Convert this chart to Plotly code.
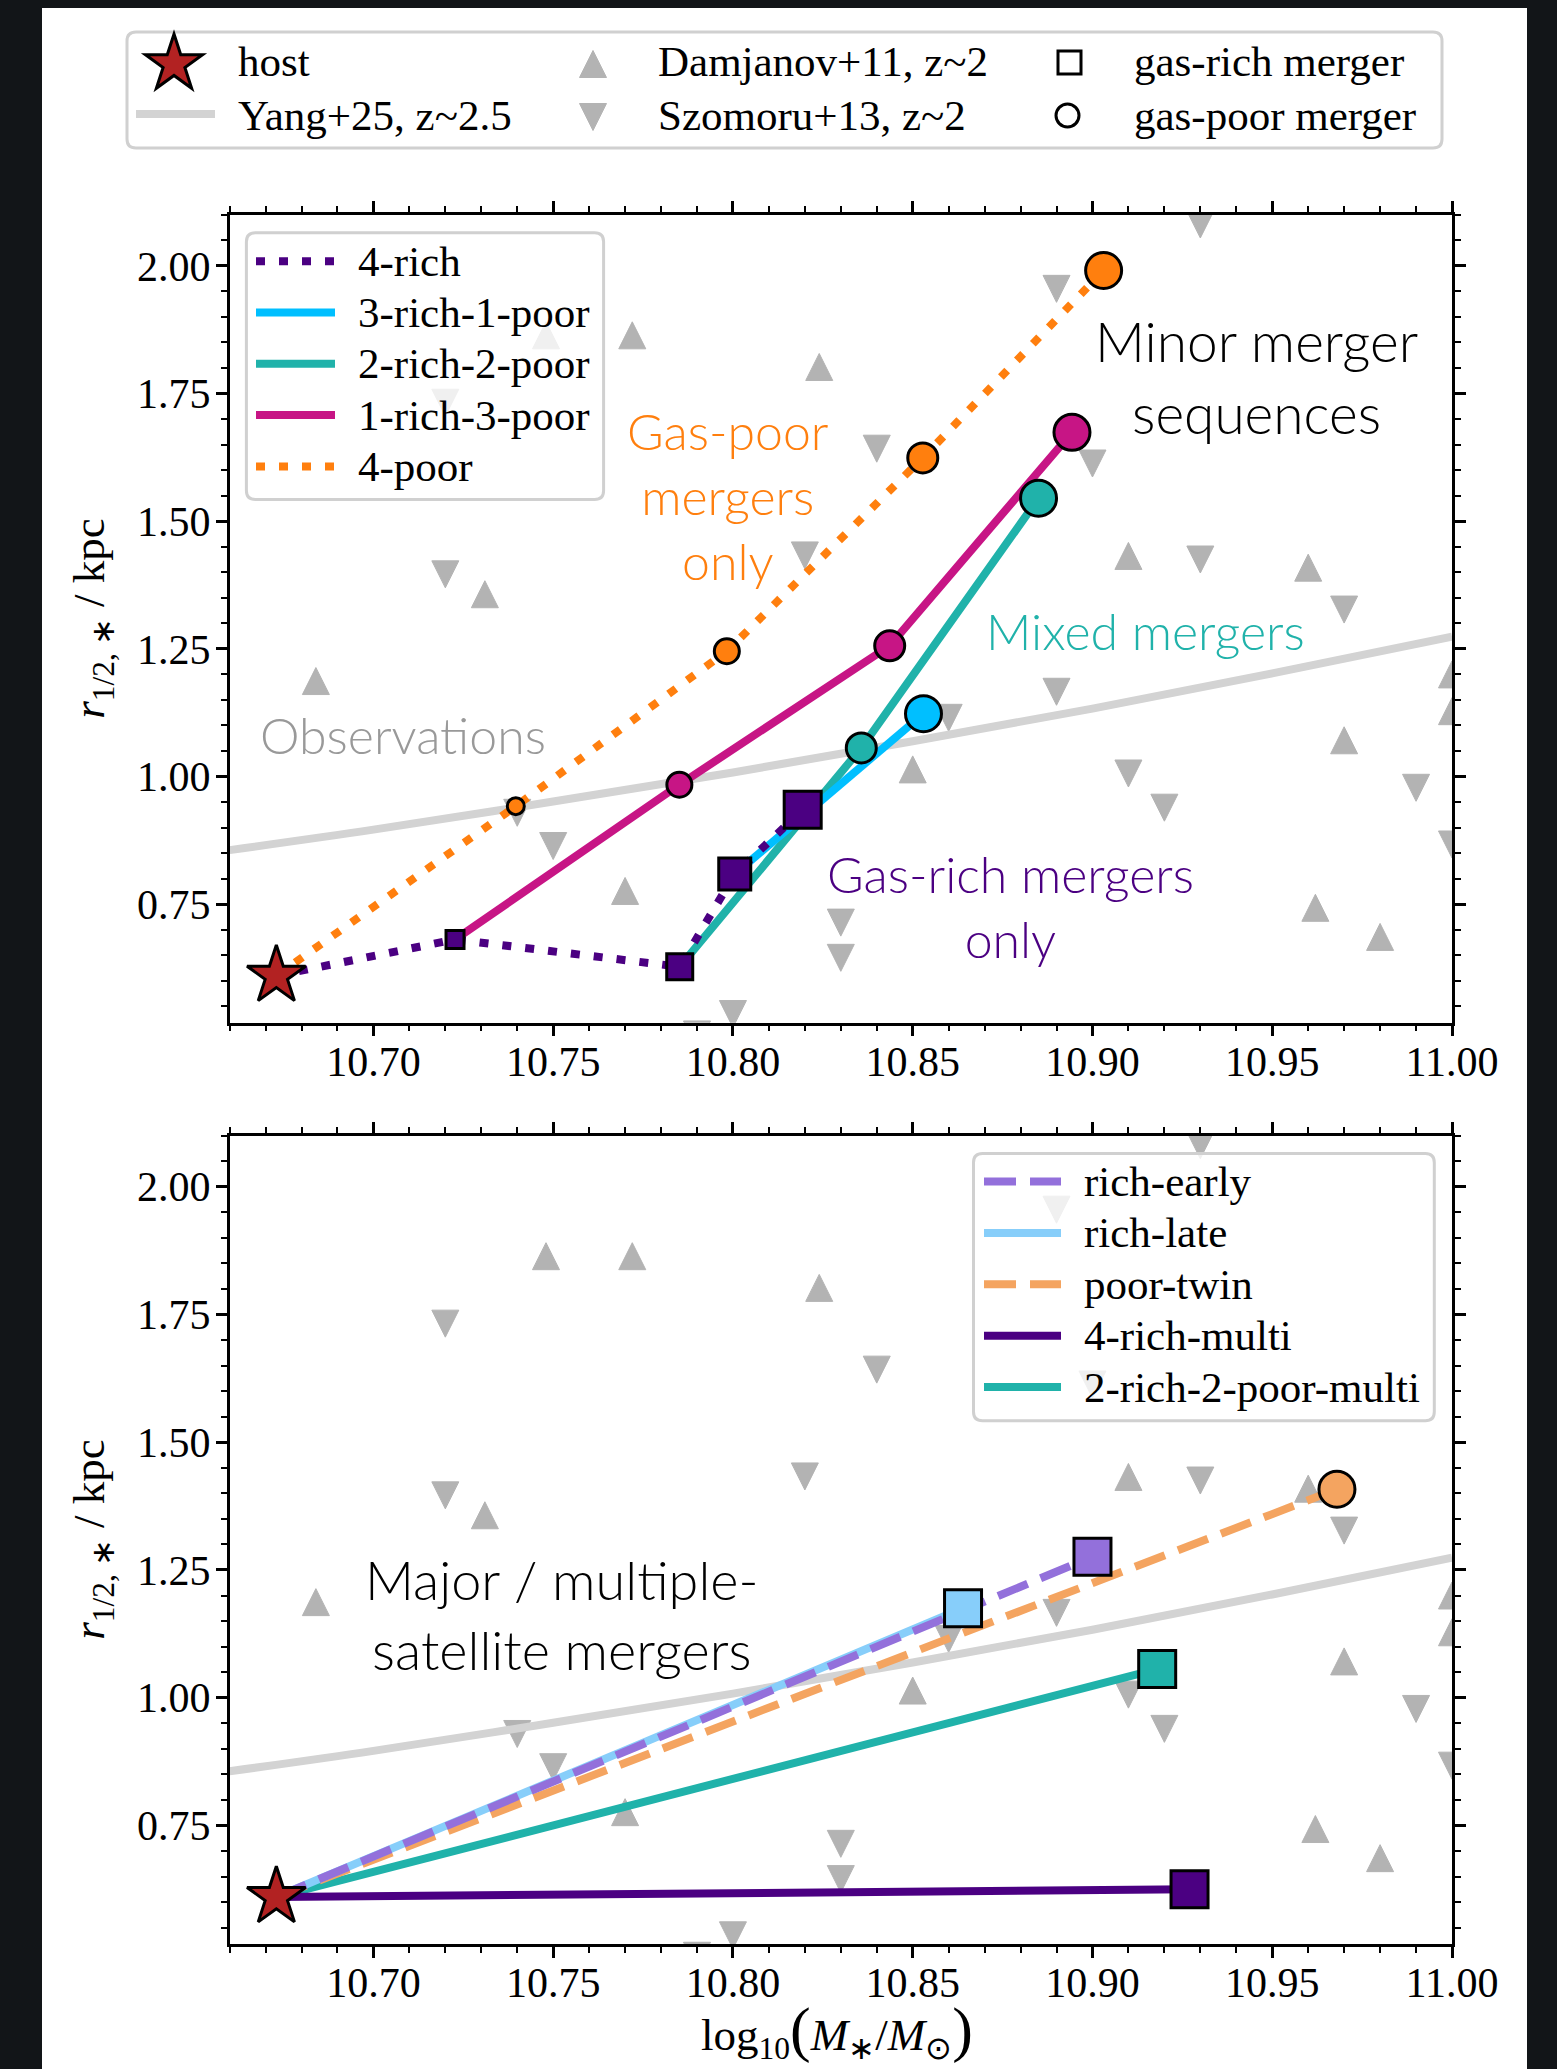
import math
import plotly.graph_objects as go

# ---------------- data ----------------
host_logm = [10.673]
host_r = [0.610]

damjanov_logm = [10.748, 10.772, 10.824, 10.731, 10.684, 10.910, 10.960, 10.970,
                 10.850, 10.770, 10.962, 10.980, 11.000, 11.000]
damjanov_r = [1.864, 1.864, 1.802, 1.357, 1.187, 1.432, 1.409, 1.071,
              1.014, 0.776, 0.743, 0.686, 1.200, 1.128]

szomoru_logm = [10.930, 10.890, 10.720, 10.840, 10.900, 10.820, 10.720, 10.930,
                10.970, 10.890, 10.860, 10.910, 10.920, 10.990, 11.000, 10.740,
                10.750, 10.830, 10.830, 10.800, 10.790]
szomoru_r = [2.081, 1.955, 1.732, 1.642, 1.613, 1.433, 1.396, 1.425,
             1.327, 1.166, 1.115, 1.006, 0.939, 0.978, 0.867, 0.929,
             0.864, 0.714, 0.645, 0.535, 0.495]

yang_logm = [10.66, 10.70, 10.75, 10.80, 10.85, 10.90, 10.95, 11.00]
yang_r = [0.856, 0.896, 0.951, 1.008, 1.069, 1.133, 1.202, 1.274]

# minor merger sequences (first point = where the sequence branches off)
minor_names = ["4-rich", "3-rich-1-poor", "2-rich-2-poor", "1-rich-3-poor", "4-poor"]
minor_logm = [
    [10.673, 10.7227, 10.7852, 10.8005, 10.8194],
    [10.8005, 10.8530],
    [10.7852, 10.8357, 10.8850],
    [10.7227, 10.7851, 10.8436, 10.8943],
    [10.673, 10.7396, 10.7983, 10.8528, 10.9031],
]
minor_r = [
    [0.610, 0.681, 0.6275, 0.809, 0.935],
    [0.809, 1.123],
    [0.6275, 1.056, 1.545],
    [0.681, 0.984, 1.256, 1.674],
    [0.610, 0.942, 1.2455, 1.624, 1.991],
]
minor_start_step = [0, 3, 2, 1, 0]
minor_kind = ["rich", "poor", "poor", "poor", "poor"]

# major / multiple-satellite mergers (all start at the host)
major_names = ["rich-early", "rich-late", "poor-twin", "4-rich-multi", "2-rich-2-poor-multi"]
major_logm = [10.900, 10.864, 10.968, 10.927, 10.918]
major_r = [1.276, 1.175, 1.408, 0.625, 1.056]
major_kind = ["rich", "rich", "poor", "rich", "rich"]

# ---------------- styles ----------------
W, H = 1557, 2069
SERIF = "Liberation Serif"
SANS = "Lato"
GRAY_OBS = "#b3b3b3"
YANG_COL = "#d3d3d3"
DOT = "9px,14px"
DASH = "32px,14px"
LW = 8
LEG_FS = 43

minor_style = {
    "4-rich": dict(color="#4B0082", dash=DOT),
    "3-rich-1-poor": dict(color="#00BFFF", dash="solid"),
    "2-rich-2-poor": dict(color="#20B2AA", dash="solid"),
    "1-rich-3-poor": dict(color="#C71585", dash="solid"),
    "4-poor": dict(color="#FF7F0E", dash=DOT),
}
major_style = {
    "rich-early": dict(color="#9370DB", dash=DASH),
    "rich-late": dict(color="#87CEFA", dash="solid"),
    "poor-twin": dict(color="#F4A460", dash=DASH),
    "4-rich-multi": dict(color="#4B0082", dash="solid"),
    "2-rich-2-poor-multi": dict(color="#20B2AA", dash="solid"),
}
SIZES = {"rich": [18, 26, 32, 37], "poor": [17, 25, 30, 36]}
SYMBOL = {"rich": "square", "poor": "circle"}


def X(v):
    return v / W


def Y(v):
    return 1 - v / H


fig = go.Figure()


def add_obs(xa, ya):
    # Damjanov: upward triangles, Szomoru: downward triangles (w = h)
    fig.add_trace(go.Scatter(
        x=damjanov_logm, y=damjanov_r, mode="markers", xaxis=xa, yaxis=ya,
        marker=dict(symbol="arrow-down", angle=180, standoff=13.5, size=27, opacity=1,
                    color=GRAY_OBS, line=dict(width=1, color=GRAY_OBS)),
        showlegend=False, hoverinfo="skip"))
    fig.add_trace(go.Scatter(
        x=szomoru_logm, y=szomoru_r, mode="markers", xaxis=xa, yaxis=ya,
        marker=dict(symbol="arrow-down", angle=0, standoff=13.5, size=27, opacity=1,
                    color=GRAY_OBS, line=dict(width=1, color=GRAY_OBS)),
        showlegend=False, hoverinfo="skip"))
    fig.add_trace(go.Scatter(
        x=yang_logm, y=yang_r, mode="lines", xaxis=xa, yaxis=ya,
        line=dict(color=YANG_COL, width=LW, shape="spline"),
        showlegend=False, hoverinfo="skip"))


def add_host(xa, ya):
    fig.add_trace(go.Scatter(
        x=host_logm, y=host_r, mode="markers", xaxis=xa, yaxis=ya,
        marker=dict(symbol="star", size=44, color="#B22222", opacity=1,
                    line=dict(width=3, color="black")),
        showlegend=False, hoverinfo="skip"))


# ---- top panel ----
add_obs("x", "y")
draw_order = ["4-poor", "1-rich-3-poor", "2-rich-2-poor", "3-rich-1-poor", "4-rich"]
for name in draw_order:
    i = minor_names.index(name)
    st = minor_style[name]
    fig.add_trace(go.Scatter(
        x=minor_logm[i], y=minor_r[i], mode="lines", xaxis="x", yaxis="y",
        line=dict(color=st["color"], width=LW, dash=st["dash"]),
        showlegend=False, hoverinfo="skip"))
for name in draw_order:
    i = minor_names.index(name)
    st = minor_style[name]
    k = minor_kind[i]
    n = len(minor_logm[i]) - 1
    sizes = [SIZES[k][minor_start_step[i] + j] for j in range(n)]
    fig.add_trace(go.Scatter(
        x=minor_logm[i][1:], y=minor_r[i][1:], mode="markers", xaxis="x", yaxis="y",
        marker=dict(symbol=SYMBOL[k], size=sizes, color=st["color"], opacity=1,
                    line=dict(width=3, color="black")),
        showlegend=False, hoverinfo="skip"))
add_host("x", "y")

# ---- bottom panel ----
add_obs("x2", "y2")
major_order = ["2-rich-2-poor-multi", "4-rich-multi", "poor-twin", "rich-late", "rich-early"]
for name in major_order:
    i = major_names.index(name)
    st = major_style[name]
    fig.add_trace(go.Scatter(
        x=[host_logm[0], major_logm[i]], y=[host_r[0], major_r[i]], mode="lines",
        xaxis="x2", yaxis="y2",
        line=dict(color=st["color"], width=LW, dash=st["dash"]),
        showlegend=False, hoverinfo="skip"))
for name in major_order:
    i = major_names.index(name)
    st = major_style[name]
    k = major_kind[i]
    fig.add_trace(go.Scatter(
        x=[major_logm[i]], y=[major_r[i]], mode="markers", xaxis="x2", yaxis="y2",
        marker=dict(symbol=SYMBOL[k], size=SIZES[k][3], color=st["color"], opacity=1,
                    line=dict(width=3, color="black")),
        showlegend=False, hoverinfo="skip"))
add_host("x2", "y2")

# ---------------- axes ----------------
XDOM = [229.6 / W, 1452 / W]
TOP_DOM = [Y(1022.7), Y(214.8)]
BOT_DOM = [Y(1944), Y(1135.6)]
tickfont = dict(family=SERIF, size=42, color="black")


def xaxis_cfg(anchor):
    return dict(domain=XDOM, anchor=anchor, range=[10.66, 11.0], showline=True,
                linecolor="black", linewidth=2.5, mirror="ticks", ticks="outside",
                ticklen=11, tickwidth=2.5, tickcolor="black", showgrid=False,
                zeroline=False, tick0=10.7, dtick=0.05, tickformat=".2f",
                tickfont=tickfont, ticklabelstandoff=-11, automargin=False,
                minor=dict(tick0=10.7, dtick=0.01, ticks="outside", ticklen=6,
                           tickwidth=2, tickcolor="black", showgrid=False))


def yaxis_cfg(anchor, dom):
    return dict(domain=dom, anchor=anchor, range=[0.518, 2.10], showline=True,
                linecolor="black", linewidth=2.5, mirror="ticks", ticks="outside",
                ticklen=11, tickwidth=2.5, tickcolor="black", showgrid=False,
                zeroline=False, tick0=0.5, dtick=0.25, tickformat=".2f",
                tickfont=tickfont, ticklabelstandoff=-3, automargin=False,
                minor=dict(tick0=0.5, dtick=0.05, ticks="outside", ticklen=6,
                           tickwidth=2, tickcolor="black", showgrid=False))


# ---------------- legends & labels (shapes + annotations) ----------------
shapes = [dict(type="rect", xref="paper", yref="paper", x0=X(42), x1=X(1527),
               y0=0, y1=Y(8), fillcolor="white", line=dict(width=0), layer="below")]
annotations = []


def rrect_path(x0, y0, x1, y1, r):
    p = [f"M{X(x0 + r)},{Y(y0)}", f"L{X(x1 - r)},{Y(y0)}",
         f"Q{X(x1)},{Y(y0)} {X(x1)},{Y(y0 + r)}", f"L{X(x1)},{Y(y1 - r)}",
         f"Q{X(x1)},{Y(y1)} {X(x1 - r)},{Y(y1)}", f"L{X(x0 + r)},{Y(y1)}",
         f"Q{X(x0)},{Y(y1)} {X(x0)},{Y(y1 - r)}", f"L{X(x0)},{Y(y0 + r)}",
         f"Q{X(x0)},{Y(y0)} {X(x0 + r)},{Y(y0)}", "Z"]
    return " ".join(p)


def add_frame(x0, y0, x1, y1):
    shapes.append(dict(type="path", xref="paper", yref="paper",
                       path=rrect_path(x0, y0, x1, y1, 9),
                       line=dict(color="#d0d0d0", width=3),
                       fillcolor="rgba(255,255,255,0.8)", layer="above"))


def add_line_sample(x0, x1, y, color, dash, width=LW):
    shapes.append(dict(type="line", xref="paper", yref="paper", x0=X(x0), x1=X(x1),
                       y0=Y(y), y1=Y(y), line=dict(color=color, width=width, dash=dash),
                       layer="above"))


def add_text(x, y, text, size=LEG_FS, family=SERIF, color="black", xanchor="left",
             weight=None, angle=0):
    f = dict(family=family, size=size, color=color)
    if weight is not None:
        f["weight"] = weight
    annotations.append(dict(x=X(x), y=Y(y), xref="paper", yref="paper", text=text,
                            showarrow=False, xanchor=xanchor, yanchor="middle",
                            font=f, textangle=angle))


def star_path(cx, cy, R, ratio=0.382):
    pts = []
    for k in range(10):
        a = -math.pi / 2 + k * math.pi / 5
        rr = R if k % 2 == 0 else R * ratio
        pts.append(f"{X(cx + rr * math.cos(a))},{Y(cy + rr * math.sin(a))}")
    return "M" + " L".join(pts) + " Z"


def tri_path(cx, cy, s, up=True):
    h = s / 2
    if up:
        pts = [(cx, cy - h), (cx - h, cy + h), (cx + h, cy + h)]
    else:
        pts = [(cx, cy + h), (cx - h, cy - h), (cx + h, cy - h)]
    return "M" + " L".join(f"{X(a)},{Y(b)}" for a, b in pts) + " Z"


# figure legend (top)
add_frame(127, 32, 1442, 148)
row1, row2 = 62, 115
shapes.append(dict(type="path", xref="paper", yref="paper", path=star_path(174, row1 + 2, 30),
                   fillcolor="#B22222", line=dict(color="black", width=3), layer="above"))
add_line_sample(136, 215, row2 - 1, YANG_COL, "solid")
shapes.append(dict(type="path", xref="paper", yref="paper", path=tri_path(593, row1 + 2, 27, True),
                   fillcolor=GRAY_OBS, line=dict(color=GRAY_OBS, width=1), layer="above"))
shapes.append(dict(type="path", xref="paper", yref="paper", path=tri_path(593, row2 + 2, 27, False),
                   fillcolor=GRAY_OBS, line=dict(color=GRAY_OBS, width=1), layer="above"))
shapes.append(dict(type="rect", xref="paper", yref="paper", x0=X(1058), x1=X(1081),
                   y0=Y(row1 + 12), y1=Y(row1 - 11), fillcolor="white",
                   line=dict(color="black", width=3), layer="above"))
shapes.append(dict(type="circle", xref="paper", yref="paper", x0=X(1056), x1=X(1079),
                   y0=Y(row2 + 12), y1=Y(row2 - 11), fillcolor="white",
                   line=dict(color="black", width=3), layer="above"))
add_text(236, row1, "host")
add_text(236, row2, "Yang+25, z~2.5")
add_text(656, row1, "Damjanov+11, z~2")
add_text(656, row2, "Szomoru+13, z~2")
add_text(1132, row1, "gas-rich merger")
add_text(1132, row2, "gas-poor merger")

# top panel legend
add_frame(246.4, 232.7, 603.6, 499.6)
for j, name in enumerate(minor_names):
    yy = 261.2 + j * 51.3
    st = minor_style[name]
    add_line_sample(256, 335, yy, st["color"], st["dash"])
    add_text(356, yy, name)

# bottom panel legend
add_frame(973.5, 1153.6, 1434.3, 1420.7)
for j, name in enumerate(major_names):
    yy = 1181.5 + j * 51.4
    st = major_style[name]
    add_line_sample(984, 1061, yy, st["color"], st["dash"])
    add_text(1082, yy, name)

# region labels
add_text(727.7, 496, "Gas-poor<br>mergers<br>only", size=50, family=SANS, color="#FF7F0E",
         xanchor="center", weight=300)
add_text(1256, 377, "Minor merger<br>sequences", size=55, family=SANS, color="black",
         xanchor="center", weight=300)
add_text(1145, 631, "Mixed mergers", size=50, family=SANS, color="#20B2AA",
         xanchor="center", weight=300)
add_text(402.5, 735, "Observations", size=50, family=SANS, color="#999999",
         xanchor="center", weight=300)
add_text(1010.7, 906, "Gas-rich mergers<br>only", size=50, family=SANS, color="#4B0082",
         xanchor="center", weight=300)
add_text(561, 1614, "Major / multiple-<br>satellite mergers", size=54, family=SANS,
         color="black", xanchor="center", weight=300)

# axis titles
ytitle = "<i>r</i><sub>1/2, ∗</sub> / kpc"
add_text(92, 618.8, ytitle, size=45, xanchor="center", angle=-90)
add_text(92, 1539.8, ytitle, size=45, xanchor="center", angle=-90)
add_text(837, 2030,
         "log<sub>10</sub><span style='font-size:62px'>(</span><i>M</i><sub>∗</sub>/"
         "<i>M</i><sub>⊙</sub><span style='font-size:62px'>)</span>",
         size=45, xanchor="center")

fig.update_layout(
    width=W, height=H, autosize=False,
    margin=dict(l=0, r=0, t=0, b=0, autoexpand=False),
    paper_bgcolor="#121518", plot_bgcolor="rgba(0,0,0,0)",
    xaxis=xaxis_cfg("y"), yaxis=yaxis_cfg("x", TOP_DOM),
    xaxis2=xaxis_cfg("y2"), yaxis2=yaxis_cfg("x2", BOT_DOM),
    shapes=shapes, annotations=annotations, showlegend=False,
)

fig.write_html("out.html", config={"responsive": False})
